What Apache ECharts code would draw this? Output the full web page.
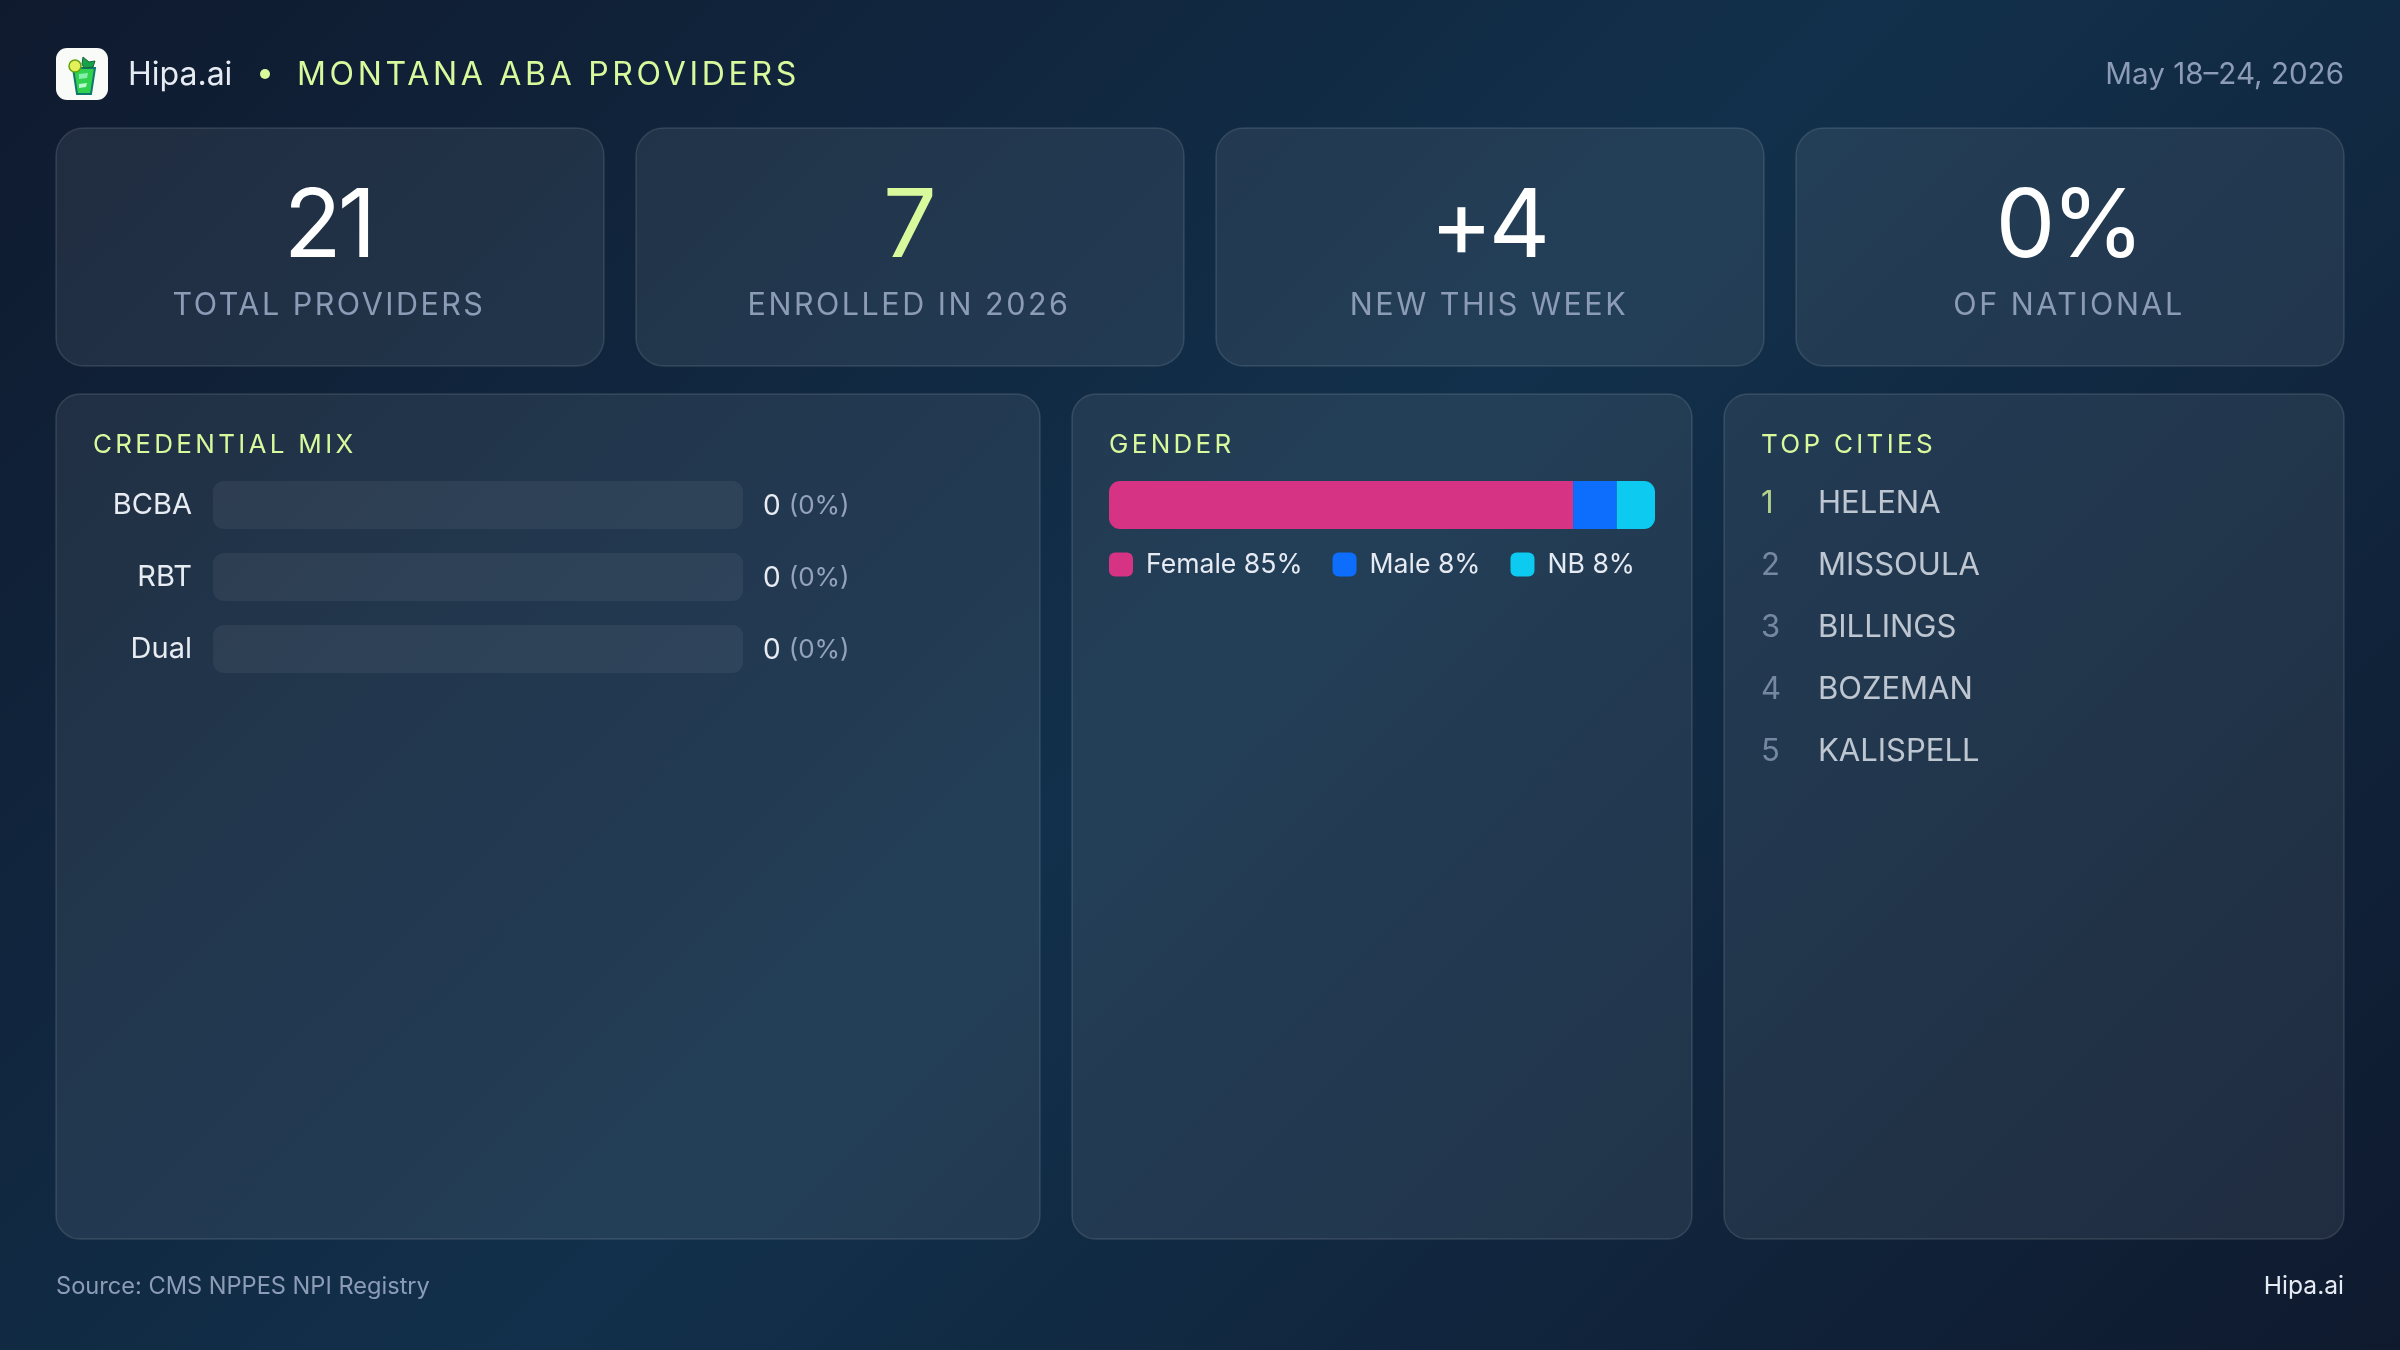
<!DOCTYPE html>
<html>
<head>
<meta charset="utf-8">
<title>Montana ABA Providers</title>
<script src="https://cdn.jsdelivr.net/npm/echarts@6/dist/echarts.min.js"></script>
<style>
  html, body { margin: 0; padding: 0; }
  body { width: 2400px; height: 1350px; overflow: hidden;
         background: linear-gradient(135deg, #0f1a2e 0%, #12304b 50%, #0f1a2e 100%); }
  #chart { width: 2400px; height: 1350px; }
</style>
</head>
<body>
<div id="chart"></div>
<script>
// data
var kpiValues = ['21', '7', '+4', '0%'];
var kpiLabels = ['TOTAL PROVIDERS', 'ENROLLED IN 2026', 'NEW THIS WEEK', 'OF NATIONAL'];
var credNames = ['BCBA', 'RBT', 'Dual'];
var credCounts = [0, 0, 0];
var credPct = [0, 0, 0];
var totalProviders = 21;
var genderNames = ['Female', 'Male', 'NB'];
var genderPct = [85, 8, 8];
var genderColors = ['#d63384', '#0d6efd', '#0dcaf0'];
var cityNames = ['HELENA', 'MISSOULA', 'BILLINGS', 'BOZEMAN', 'KALISPELL'];
var panelTitles = ['CREDENTIAL MIX', 'GENDER', 'TOP CITIES'];

var FONT = 'Inter, sans-serif';
var LIME = '#d9f99d', LIGHT = '#e6ebf3', MUTED = '#8c9cb6';

// canvas text tracking, zrender has no letter spacing of its own
var tracking = { 'MONTANA ABA PROVIDERS': '3.7px' };
kpiValues.forEach(function (t) { tracking[t] = '-4px'; });
kpiLabels.forEach(function (t) { tracking[t] = '2.5px'; });
panelTitles.forEach(function (t) { tracking[t] = '3.3px'; });
var fillText = CanvasRenderingContext2D.prototype.fillText;
CanvasRenderingContext2D.prototype.fillText = function (text) {
  this.letterSpacing = tracking[text] || '0px';
  return fillText.apply(this, arguments);
};

function label(text, x, y, size, fill, align, weight) {
  return {
    type: 'text', z: 10,
    style: {
      text: text, x: x, y: y, fill: fill,
      font: (weight || 400) + ' ' + size + 'px ' + FONT,
      textAlign: align || 'left', textVerticalAlign: 'middle'
    }
  };
}

function box(x, y, w, h, r) {
  return {
    type: 'rect', z: 1,
    shape: { x: x, y: y, width: w, height: h, r: r },
    style: { fill: 'rgba(255,255,255,0.075)', stroke: 'rgba(255,255,255,0.12)', lineWidth: 1.5 }
  };
}

var graphics = [];

// logo
graphics.push({ type: 'rect', z: 5, shape: { x: 56, y: 48, width: 52, height: 52, r: 11 }, style: { fill: '#f8fbf8' } });
graphics.push({ type: 'polygon', z: 6, shape: { points: [[73, 68], [95, 68], [91, 94], [77, 94]] }, style: { fill: '#2fd14f', stroke: '#0f766e', lineWidth: 2 } });
graphics.push({ type: 'polygon', z: 7, shape: { points: [[79, 74], [88, 73], [87, 78], [79, 79]] }, style: { fill: '#86efac' } });
graphics.push({ type: 'polygon', z: 7, shape: { points: [[79, 84], [87, 83], [86, 87], [79, 88]] }, style: { fill: '#bbf7d0' } });
graphics.push({ type: 'polygon', z: 6, shape: { points: [[82, 64], [83, 57], [89, 62], [95, 61], [93, 67], [84, 68]] }, style: { fill: '#16a34a', stroke: '#166534', lineWidth: 1 } });
graphics.push({ type: 'circle', z: 8, shape: { cx: 75, cy: 66, r: 6 }, style: { fill: '#e3f05a', stroke: '#65a30d', lineWidth: 1.5 } });

// header
graphics.push(label('Hipa.ai', 128, 75.5, 32, LIGHT));
graphics.push({ type: 'circle', z: 10, shape: { cx: 265, cy: 74, r: 5 }, style: { fill: LIME } });
graphics.push(label('MONTANA ABA PROVIDERS', 297, 75.5, 32, LIME));
graphics.push(label('May 18\u201324, 2026', 2344, 75.5, 29.6, MUTED, 'right'));

// kpi cards
kpiValues.forEach(function (v, i) {
  var x = 56 + i * 580;
  graphics.push(box(x, 128, 548, 238, 28));
  graphics.push(label(v, x + 272, 228, 95, i === 1 ? LIME : '#ffffff', 'center'));
  graphics.push(label(kpiLabels[i], x + 273, 305.5, 30.5, MUTED, 'center'));
});

// panels
var panelX = [56, 1072, 1724];
var panelW = [984, 620, 620];
panelTitles.forEach(function (t, i) {
  graphics.push(box(panelX[i], 394, panelW[i], 845, 24));
  graphics.push(label(t, panelX[i] + 37, 445.5, 26, LIME));
});

// footer
graphics.push(label('Source: CMS NPPES NPI Registry', 56, 1287, 23.6, MUTED));
graphics.push(label('Hipa.ai', 2344, 1287, 24.6, LIGHT, 'right'));

// the stacked bar is cut off at 100, so the last segment only gets what is left
var used = 0;
var genderSeries = genderNames.map(function (name, i) {
  var drawn = Math.min(genderPct[i], 100 - used);
  used += drawn;
  var r = i === 0 ? [11, 0, 0, 11] : (i === genderNames.length - 1 ? [0, 11, 11, 0] : 0);
  return {
    name: name, type: 'bar', stack: 'gender', xAxisIndex: 1, yAxisIndex: 2,
    barWidth: 48, data: [drawn], silent: true,
    itemStyle: { color: genderColors[i], borderRadius: r }
  };
});

var option = {
  animation: false,
  tooltip: { show: false },
  graphic: graphics,
  color: genderColors,
  grid: [
    { left: 213, top: 469, width: 530, height: 216 },
    { left: 1109, top: 481, width: 546, height: 48 },
    { left: 1761, top: 473, width: 500, height: 310 }
  ],
  xAxis: [
    { type: 'value', gridIndex: 0, min: 0, max: totalProviders, show: false },
    { type: 'value', gridIndex: 1, min: 0, max: 100, show: false },
    { type: 'value', gridIndex: 2, min: 0, max: 1, show: false }
  ],
  yAxis: [
    {
      type: 'category', gridIndex: 0, inverse: true, data: credNames,
      axisLine: { show: false }, axisTick: { show: false },
      axisLabel: { margin: 21, fontFamily: FONT, fontSize: 29, color: LIGHT, padding: [6, 0, 0, 0] }
    },
    {
      type: 'category', gridIndex: 0, inverse: true, position: 'right', data: credNames,
      axisLine: { show: false }, axisTick: { show: false },
      axisLabel: {
        margin: 20, align: 'left',
        formatter: function (v, i) { return '{v|' + credCounts[i] + '}{p|(' + credPct[i] + '%)}'; },
        rich: {
          v: { fontFamily: FONT, fontSize: 28, color: LIGHT, padding: [3, 0, 0, 0] },
          p: { fontFamily: FONT, fontSize: 26, color: MUTED, padding: [3, 0, 0, 8] }
        }
      }
    },
    { type: 'category', gridIndex: 1, data: ['Gender'], show: false },
    { type: 'category', gridIndex: 2, inverse: true, data: cityNames, show: false }
  ],
  legend: {
    left: 1109, top: 551, padding: 0, orient: 'horizontal',
    itemWidth: 24, itemHeight: 24, itemGap: 30, icon: 'roundRect',
    selectedMode: false, data: genderNames,
    textStyle: { fontFamily: FONT, fontSize: 26.6, color: LIGHT, padding: [0, 0, 0, 8] },
    formatter: function (name) { return name + ' ' + genderPct[genderNames.indexOf(name)] + '%'; }
  },
  series: [
    {
      type: 'bar', xAxisIndex: 0, yAxisIndex: 0, barWidth: 48, data: credCounts, silent: true,
      showBackground: true,
      backgroundStyle: { color: 'rgba(255,255,255,0.06)', borderRadius: 11 },
      itemStyle: { color: LIME, borderRadius: 11 }
    }
  ].concat(genderSeries).concat([
    {
      type: 'scatter', xAxisIndex: 2, yAxisIndex: 3, symbolSize: 0, silent: true,
      data: cityNames.map(function (c) { return [0, c]; }),
      label: {
        show: true, position: 'right', distance: 0,
        formatter: function (p) {
          return '{' + (p.dataIndex === 0 ? 'first' : 'rank') + '|' + (p.dataIndex + 1) + '}{city|' + p.value[1] + '}';
        },
        rich: {
          first: { width: 57, fontFamily: FONT, fontSize: 31, color: LIME },
          rank: { width: 57, fontFamily: FONT, fontSize: 31, color: MUTED },
          city: { fontFamily: FONT, fontSize: 31, color: LIGHT }
        }
      }
    }
  ])
};

var chart = echarts.init(document.getElementById('chart'));
chart.setOption(option);
</script>
</body>
</html>
